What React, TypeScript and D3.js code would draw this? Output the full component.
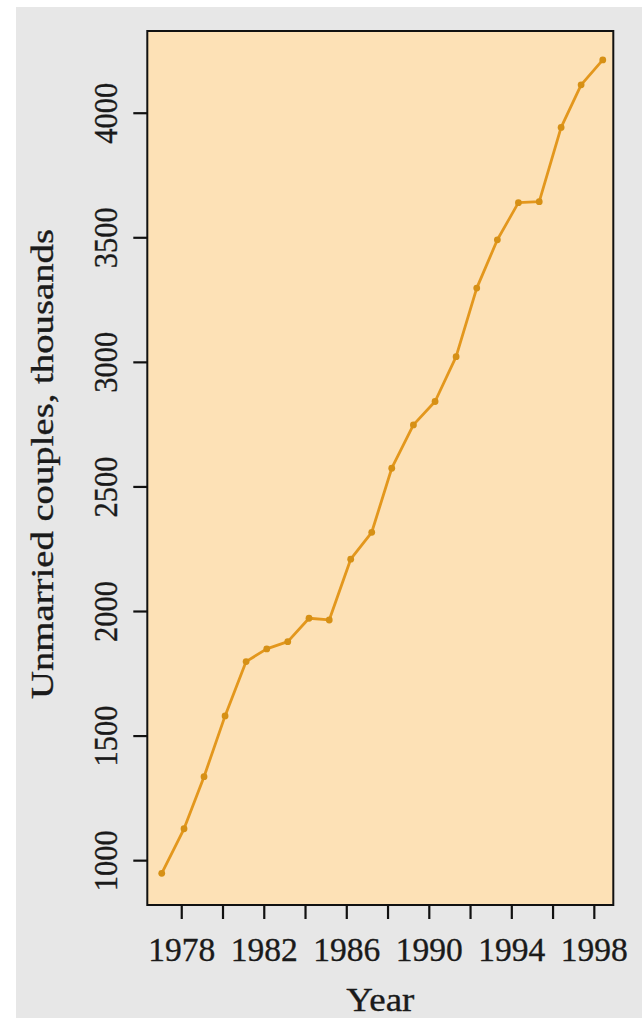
import React from "react";
import * as d3 from "d3";

// Unmarried-couple households in the US, thousands, by survey year
const obsYears = [
  1977.03, 1978.11, 1979.08, 1980.1, 1981.12, 1982.12, 1983.14, 1984.17,
  1985.15, 1986.19, 1987.21, 1988.18, 1989.23, 1990.28, 1991.3, 1992.3,
  1993.3, 1994.32, 1995.33, 1996.39, 1997.36, 1998.41,
];
const couples = [
  949, 1128, 1337, 1581, 1799, 1850, 1879, 1973, 1966, 2210, 2318, 2575,
  2749, 2843, 3023, 3298, 3492, 3641, 3645, 3943, 4114, 4214,
];
const xTicks = [1978, 1980, 1982, 1984, 1986, 1988, 1990, 1992, 1994, 1996, 1998];
const xTickLabels = [1978, 1982, 1986, 1990, 1994, 1998];
const yTicks = [1000, 1500, 2000, 2500, 3000, 3500, 4000];

const W = 642;
const H = 1018;
const plot = { left: 147.3, right: 613.3, top: 31, bottom: 905 };
const FONT = "'Liberation Serif', 'DejaVu Serif', serif";
const INK = "#1a1a1a";

export default function App() {
  const x = d3
    .scaleLinear()
    .domain([1976.33, 1998.92])
    .range([plot.left, plot.right]);
  const y = d3
    .scaleLinear()
    .domain([822, 4330])
    .range([plot.bottom, plot.top]);

  const pts = obsYears.map((t, i) => [x(t), y(couples[i])] as [number, number]);
  const line = d3.line()(pts) ?? "";

  const textStyle = { stroke: INK, strokeWidth: 0.35 };

  return (
    <svg
      width={W}
      height={H}
      style={{ position: "absolute", left: 0, top: 0, display: "block" }}
    >
      <rect x={0} y={0} width={W} height={H} fill="#ffffff" />
      <rect x={16} y={7} width={W - 16} height={H - 7} fill="#e7e7e7" />
      <rect
        x={plot.left}
        y={plot.top}
        width={plot.right - plot.left}
        height={plot.bottom - plot.top}
        fill="#fde1b6"
      />
      <path d={line} fill="none" stroke="#e3971d" strokeWidth={2.8} strokeLinejoin="round" />
      {pts.map(([px, py], i) => (
        <circle key={i} cx={px} cy={py} r={3.4} fill="#d69015" />
      ))}
      <rect
        x={plot.left}
        y={plot.top}
        width={plot.right - plot.left}
        height={plot.bottom - plot.top}
        fill="none"
        stroke="#111"
        strokeWidth={2}
      />
      {xTicks.map((t) => (
        <line key={t} x1={x(t)} x2={x(t)} y1={plot.bottom} y2={plot.bottom + 14} stroke="#111" strokeWidth={2.2} />
      ))}
      {xTickLabels.map((t) => (
        <text
          key={t}
          x={x(t)}
          y={961}
          textAnchor="middle"
          fontFamily={FONT}
          fontSize={33}
          fill={INK}
          textLength={67}
          lengthAdjust="spacingAndGlyphs"
          style={textStyle}
        >
          {t}
        </text>
      ))}
      {yTicks.map((v) => (
        <line key={v} x1={plot.left - 14} x2={plot.left} y1={y(v)} y2={y(v)} stroke="#111" strokeWidth={2.2} />
      ))}
      {yTicks.map((v) => (
        <text
          key={v}
          transform={`translate(117,${y(v)}) rotate(-90)`}
          textAnchor="middle"
          fontFamily={FONT}
          fontSize={33}
          fill={INK}
          textLength={61}
          lengthAdjust="spacingAndGlyphs"
          style={textStyle}
        >
          {v}
        </text>
      ))}
      <text
        x={(plot.left + plot.right) / 2}
        y={1011}
        textAnchor="middle"
        fontFamily={FONT}
        fontSize={33}
        fill={INK}
        textLength={68}
        lengthAdjust="spacingAndGlyphs"
        style={textStyle}
      >
        Year
      </text>
      <text
        transform={`translate(53,${(plot.top + plot.bottom) / 2 - 4}) rotate(-90)`}
        textAnchor="middle"
        fontFamily={FONT}
        fontSize={32}
        fill={INK}
        textLength={470}
        lengthAdjust="spacingAndGlyphs"
        style={textStyle}
      >
        Unmarried couples, thousands
      </text>
    </svg>
  );
}
